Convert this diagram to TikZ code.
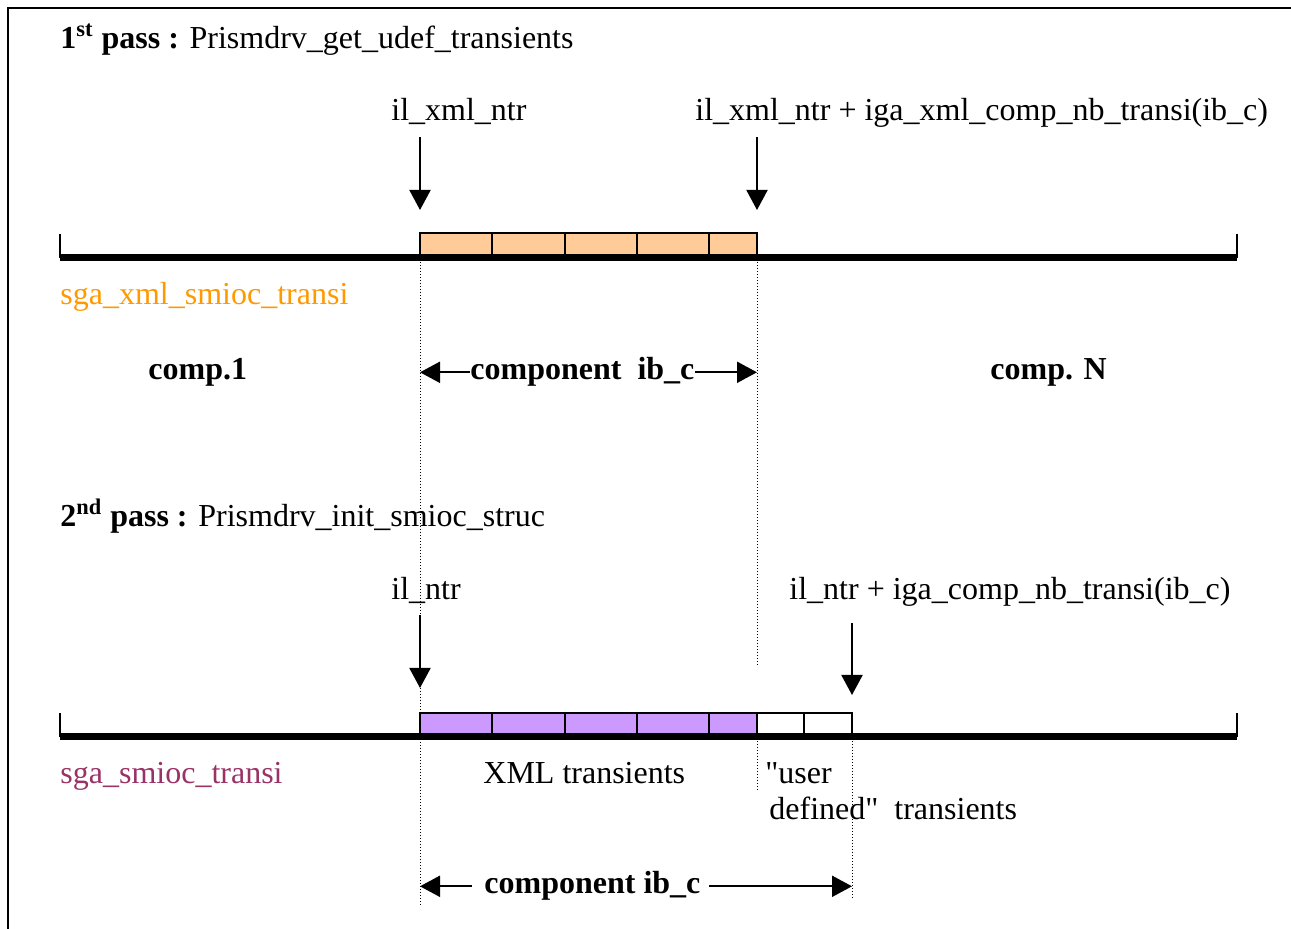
\documentclass[tikz,border=0pt]{standalone}
\usepackage{fontspec}
\setmainfont{Liberation Serif}
\newfontfamily\qfont{Liberation Serif}[Ligatures=ResetAll]
\usetikzlibrary{arrows.meta}
\definecolor{peach}{HTML}{FFCC99}
\definecolor{lilac}{HTML}{CC99FF}
\definecolor{orangetxt}{HTML}{FF9900}
\definecolor{plumtxt}{HTML}{993366}
\newcommand{\sq}{{\qfont"}}
\begin{document}
\begin{tikzpicture}[x=0.5pt,y=-0.5pt,
  lbl/.style={anchor=base west,inner sep=0pt,font=\fontsize{16}{19}\selectfont},
  blbl/.style={lbl,font=\fontsize{16}{19}\selectfont\bfseries},
  arr/.style={line width=1pt,-{Triangle[length=10pt,width=10.5pt]}},
  dots/.style={line width=0.5pt,dash pattern=on 0.5pt off 1pt},
  timeline/.style={line width=3.5pt},
  tick/.style={line width=1pt},
  cell/.style={draw=black,line width=0.6pt},
  frame/.style={line width=1pt}]
\useasboundingbox (0,0) rectangle (1291,929);
% frame (cut at right and bottom)
\draw[frame] (8,929) -- (8,8) -- (1291,8);

% ---------- first pass ----------
\node[lbl] (t1) at (60,49) {\textbf{1\textsuperscript{st} pass :} Prismdrv\_get\_udef\_transients};
\node[lbl] (l1) at (391,121) {il\_xml\_ntr};
\node[lbl] (r1) at (695,121) {il\_xml\_ntr + iga\_xml\_comp\_nb\_transi(ib\_c)};
\coordinate (a1s) at (420,137); \coordinate (a1e) at (420,210);
\coordinate (b1s) at (757,137); \coordinate (b1e) at (757,210);

% dotted guides
\coordinate (d1t) at (420,262); \coordinate (d1b) at (420,905);
\coordinate (d2t) at (757,262); \coordinate (d2b) at (757,665);
\coordinate (d3t) at (757,741); \coordinate (d3b) at (757,790);
\coordinate (d4t) at (852,741); \coordinate (d4b) at (852,900);
\draw[dots] (d1t) -- (d1b);
\draw[dots] (d2t) -- (d2b);
\draw[dots] (d3t) -- (d3b);
\draw[dots] (d4t) -- (d4b);

% orange cells
\foreach \xa/\xb in {420/492,492/565,565/637,637/709,709/757}
  \draw[cell,fill=peach] (\xa,233) rectangle (\xb,255);
\draw[line width=1.2pt] (420,255) -- (420,233) -- (757,233) -- (757,255);
\draw[timeline] (60,258) -- (1237,258);
\draw[tick] (60,234) -- (60,258);
\draw[tick] (1237,234) -- (1237,258);

\draw[arr] (a1s) -- (a1e);
\draw[arr] (b1s) -- (b1e);

\node[lbl,text=orangetxt] (s1) at (60,305) {sga\_xml\_smioc\_transi};
\node[blbl] (c1) at (148,380) {comp.1};
\node[blbl] (cn) at (990,380) {comp. N};
\node[blbl] (ib1) at (470,380) {component\ \ ib\_c};
\draw[arr] (ib1.west) -- (ib1.west -| d1t);
\draw[arr] (ib1.east) -- (ib1.east -| d2t);

% ---------- second pass ----------
\node[lbl] (t2) at (60,527) {\textbf{2\textsuperscript{nd} pass :} Prismdrv\_init\_smioc\_struc};
\node[lbl] (l2) at (391,600) {il\_ntr};
\node[lbl] (r2) at (789,600) {il\_ntr + iga\_comp\_nb\_transi(ib\_c)};
\coordinate (a2s) at (420,615); \coordinate (a2e) at (420,688);
\coordinate (b2s) at (852,623); \coordinate (b2e) at (852,695);

\foreach \xa/\xb in {420/492,492/565,565/637,637/709,709/757}
  \draw[cell,fill=lilac] (\xa,713) rectangle (\xb,734);
\foreach \xa/\xb in {757/804,804/852}
  \draw[cell,fill=white] (\xa,713) rectangle (\xb,734);
\draw[line width=1.2pt] (420,734) -- (420,713) -- (852,713) -- (852,734);
\draw[timeline] (60,737) -- (1237,737);
\draw[tick] (60,713) -- (60,737);
\draw[tick] (1237,713) -- (1237,737);

\draw[arr] (a2s) -- (a2e);
\draw[arr] (b2s) -- (b2e);

\node[lbl,text=plumtxt] (s2) at (60,784) {sga\_smioc\_transi};
\node[lbl] (xt) at (483,784) {XML transients};
\node[lbl] (ud1) at (765,784) {\sq user};
\node[lbl] (ud2) at (769,820) {defined\sq\ \ transients};

\node[blbl] (ib2) at (484,894) {component ib\_c};
\draw[arr] ([xshift=-6pt]ib2.west) -- (ib2.west -| d1b);
\draw[arr] ([xshift=4pt]ib2.east) -- (ib2.east -| d4b);
\end{tikzpicture}
\end{document}
